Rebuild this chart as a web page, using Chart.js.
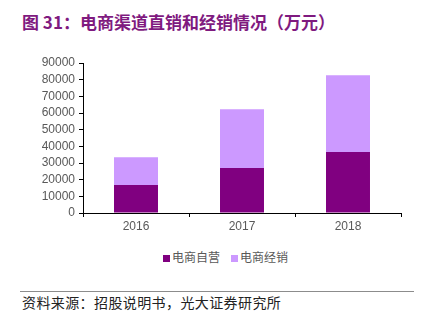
<!DOCTYPE html>
<html>
<head>
<meta charset="utf-8">
<script src="https://cdn.jsdelivr.net/npm/chart.js@4"></script>
<style>
  body { margin: 0; background: #fff; }
  #wrap { position: relative; width: 432px; height: 327px; font-family: "Liberation Sans", Arial, sans-serif; }
  #title { position: absolute; left: 22px; top: 9px; font: bold 17px "Noto Sans CJK SC", sans-serif; color: #7f1a7f; white-space: nowrap; }
  #box { position: absolute; left: 0; top: 50px; width: 432px; height: 190px; }
  #legend { position: absolute; top: 248px; left: 163px; font: 12px "Noto Sans CJK SC", sans-serif; color: #595959; white-space: nowrap; }
  #legend span.sw { display: inline-block; width: 7px; height: 7px; margin-right: 2px; vertical-align: 0px; }
  #legend span.item { margin-right: 11px; }
  #rule { position: absolute; left: 20px; top: 291px; width: 394px; height: 0; border-top: 1.5px solid #8c8c8c; }
  #source { position: absolute; left: 22px; top: 292px; font: 14px "Noto Sans CJK SC", sans-serif; color: #222; white-space: nowrap; letter-spacing: 0.4px; }
</style>
</head>
<body>
<div id="wrap">
  <div id="title">图 31：电商渠道直销和经销情况（万元）</div>
  <div id="box"><canvas id="chart"></canvas></div>
  <div id="legend"></div>
  <div id="rule"></div>
  <div id="source">资料来源：招股说明书，光大证券研究所</div>
</div>
<script>
// Years on the x axis
const years = ['2016', '2017', '2018'];
// Direct online sales and online distribution (万元)
const directSales = [16800, 27000, 36600];
const distribution = [16600, 35200, 46000];
const seriesNames = ['电商自营', '电商经销'];
const seriesColors = ['#800080', '#cc99ff'];
const yTicks = [0, 10000, 20000, 30000, 40000, 50000, 60000, 70000, 80000, 90000];

const ctx = document.getElementById('chart').getContext('2d');

const chart = new Chart(ctx, {
    type: 'bar',
    data: {
        labels: years,
        datasets: [
            { label: seriesNames[0], data: directSales, backgroundColor: seriesColors[0] },
            { label: seriesNames[1], data: distribution, backgroundColor: seriesColors[1] }
        ]
    },
    options: {
        responsive: true,
        maintainAspectRatio: false,
        animation: false,
        layout: { padding: { left: 0, right: 31, top: 13, bottom: 0 } },
        datasets: { bar: { categoryPercentage: 1, barPercentage: 0.415 } },
        plugins: {
            legend: { display: false },
            title: { display: false },
            tooltip: { enabled: false }
        },
        scales: {
            x: {
                stacked: true,
                offset: true,
                border: { color: '#000', width: 1 },
                grid: { offset: true, drawOnChartArea: false, color: '#000', tickLength: 4 },
                ticks: { color: '#595959', font: { family: 'Liberation Sans', size: 12 }, padding: 2 },
                afterFit: s => { s.height = 27; }
            },
            y: {
                stacked: true,
                min: 0,
                max: 90000,
                afterBuildTicks: s => { s.ticks = yTicks.map(v => ({ value: v })); },
                border: { color: '#000', width: 1 },
                grid: { drawOnChartArea: false, color: '#000', tickLength: 4 },
                ticks: {
                    color: '#595959',
                    font: { family: 'Liberation Sans', size: 12 },
                    padding: 4,
                    autoSkip: false,
                    callback: v => String(v)
                },
                afterFit: s => { s.width = 83; }
            }
        }
    }
});

// Legend row under the x axis
const legend = document.getElementById('legend');
seriesNames.forEach((name, i) => {
    const item = document.createElement('span');
    item.className = 'item';
    item.innerHTML = '<span class="sw" style="background:' + seriesColors[i] + '"></span>' + name;
    legend.appendChild(item);
});
</script>
</body>
</html>
